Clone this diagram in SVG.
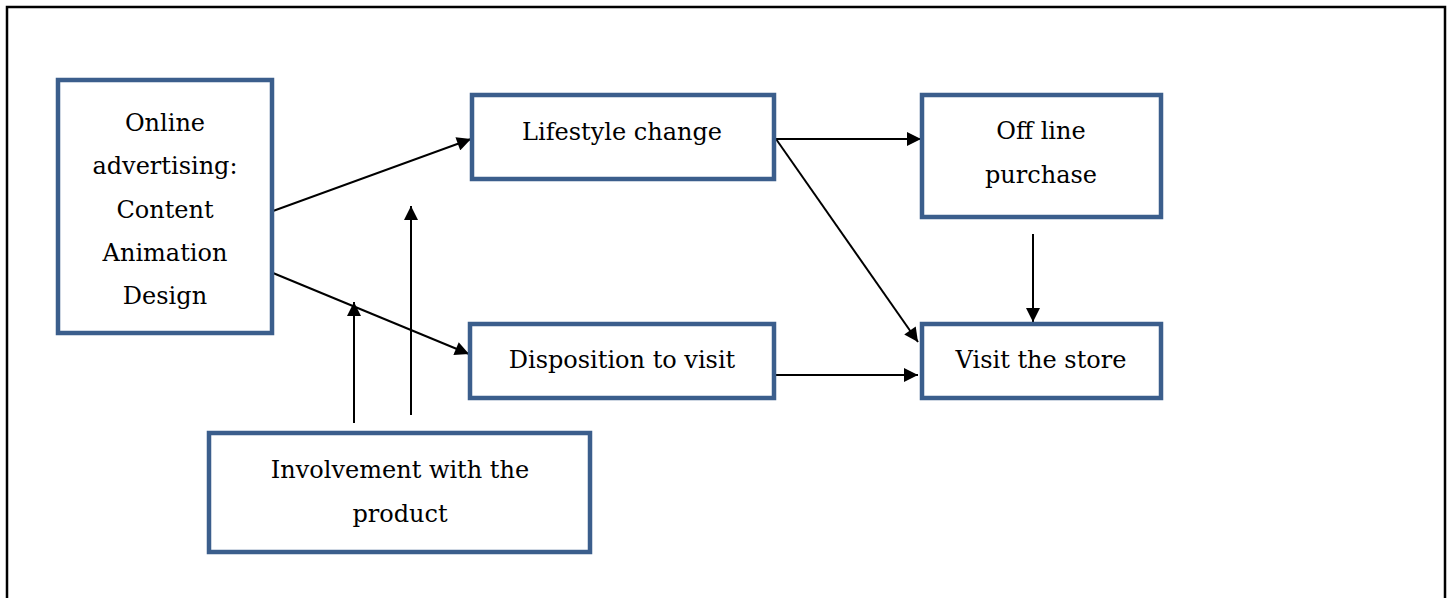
<svg xmlns="http://www.w3.org/2000/svg" width="1453" height="598" viewBox="0 0 1453 598">
<defs>
<style>
.box{fill:#fff;stroke:#3b5e8c;stroke-width:4.5}
.t{font-family:"DejaVu Serif","Liberation Serif",serif;font-size:24px;fill:#000;text-anchor:middle}
.c{stroke:#000;stroke-width:2;fill:none;marker-end:url(#ah)}
</style>
<marker id="ah" viewBox="0 0 10 10" refX="10" refY="5" markerWidth="15" markerHeight="14" markerUnits="userSpaceOnUse" orient="auto">
<path d="M0,0 L10,5 L0,10 z" fill="#000"/>
</marker>
</defs>
<rect x="0" y="0" width="1453" height="598" fill="#fff"/>
<path d="M7,600 V7 H1445 V600" fill="none" stroke="#000" stroke-width="2.5"/>
<g id="connectors">
<line class="c" x1="273" y1="211" x2="471" y2="139"/>
<line class="c" x1="273" y1="273" x2="469" y2="354"/>
<line class="c" x1="776" y1="139" x2="921" y2="139"/>
<line class="c" x1="776" y1="139" x2="918" y2="342"/>
<line class="c" x1="1033" y1="234" x2="1033" y2="322"/>
<line class="c" x1="776" y1="375" x2="918" y2="375"/>
<line class="c" x1="354" y1="423" x2="354" y2="302"/>
<line class="c" x1="411" y1="415" x2="411" y2="206"/>
</g>
<g id="online">
<rect class="box" x="58" y="80" width="214" height="253"/>
<text class="t" x="165" y="131">Online</text>
<text class="t" x="165" y="174">advertising:</text>
<text class="t" x="165" y="218">Content</text>
<text class="t" x="165" y="261">Animation</text>
<text class="t" x="165" y="304">Design</text>
</g>
<g id="lifestyle">
<rect class="box" x="472" y="95" width="302" height="84"/>
<text class="t" x="622" y="140">Lifestyle change</text>
</g>
<g id="offline">
<rect class="box" x="922" y="95" width="239" height="122"/>
<text class="t" x="1041" y="139">Off line</text>
<text class="t" x="1041" y="183">purchase</text>
</g>
<g id="disposition">
<rect class="box" x="470" y="324" width="304" height="74"/>
<text class="t" x="622" y="368">Disposition to visit</text>
</g>
<g id="visit">
<rect class="box" x="922" y="324" width="239" height="74"/>
<text class="t" x="1041" y="368">Visit the store</text>
</g>
<g id="involvement">
<rect class="box" x="209" y="433" width="381" height="119"/>
<text class="t" x="400" y="478">Involvement with the</text>
<text class="t" x="400" y="522">product</text>
</g>
</svg>
